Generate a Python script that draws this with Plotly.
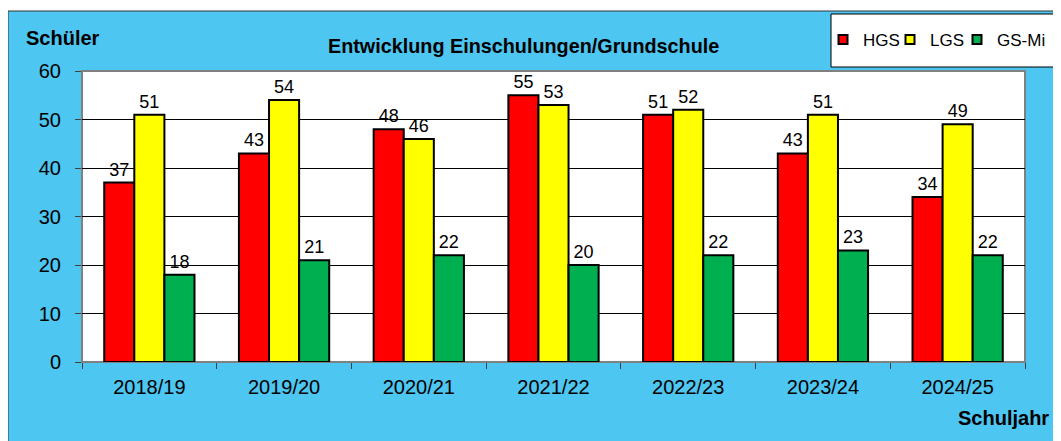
import plotly.graph_objects as go

years = ['2018/19', '2019/20', '2020/21', '2021/22', '2022/23', '2023/24', '2024/25']
hgs = [37, 43, 48, 55, 51, 43, 34]
lgs = [51, 54, 46, 53, 52, 51, 49]
gs_mi = [18, 21, 22, 20, 22, 23, 22]

font = 'Arial, Liberation Sans, sans-serif'
# page has an 8px body margin, so the figure is 8px smaller and coords are shifted
OFF = 8
W, H = 1061 - OFF, 441 - OFF
ml, mr, mt, mb = 82 - OFF, 36, 71 - OFF, 79
pw, ph = W - ml - mr, H - mt - mb

def px_x(x):
    return (x - OFF - ml) / pw

def px_y(y):
    return (H - mb - (y - OFF)) / ph

series = [('HGS', hgs, '#FF0000'), ('LGS', lgs, '#FFFF00'), ('GS-Mi', gs_mi, '#00B050')]
legend_names = ['legend', 'legend2', 'legend3']
legend_x = [823, 890, 957]

fig = go.Figure()
for name, vals, col in series:
    fig.add_trace(go.Bar(x=years, y=vals, name=name, showlegend=False,
                         marker=dict(color=col, line=dict(color='black', width=2)),
                         text=vals, textposition='outside', cliponaxis=False,
                         textfont=dict(size=18, color='black', family=font)))
# legend entries with small square keys, one legend each so they can sit close together
for (name, vals, col), lg in zip(series, legend_names):
    fig.add_trace(go.Scatter(x=[None], y=[None], mode='markers', name=name, legend=lg,
                             marker=dict(symbol='square', size=9, color=col,
                                         line=dict(color='black', width=2))))

legend_style = dict(orientation='h', xanchor='left', yanchor='top', y=px_y(22),
                    bgcolor='rgba(0,0,0,0)', borderwidth=0, font=dict(size=17))

fig.update_layout(
    width=W, height=H,
    margin=dict(l=ml, r=mr, t=mt, b=mb, autoexpand=False),
    paper_bgcolor='white', plot_bgcolor='white',
    barmode='group', bargap=0.33, bargroupgap=0,
    font=dict(family=font, size=20, color='black'),
    showlegend=True,
    shapes=[dict(type='rect', xref='paper', yref='paper', layer='below',
                 x0=px_x(8), x1=px_x(1062), y0=px_y(442), y1=px_y(11),
                 fillcolor='#4DC6F2', line=dict(color='#333333', width=1)),
            dict(type='rect', xref='paper', yref='paper', layer='below',
                 x0=0, x1=1, y0=0, y1=1, fillcolor='white', line=dict(color='#808080', width=2)),
            dict(type='rect', xref='paper', yref='paper', layer='below',
                 x0=px_x(831), x1=px_x(1057), y0=px_y(67), y1=px_y(14),
                 fillcolor='white', line=dict(color='black', width=1))],
    annotations=[
        dict(text='<b>Schüler</b>', xref='paper', yref='paper', x=px_x(24), y=px_y(38),
             xanchor='left', yanchor='middle', showarrow=False, font=dict(size=20)),
        dict(text='<b>Entwicklung Einschulungen/Grundschule</b>', xref='paper', yref='paper',
             x=px_x(523), y=px_y(46), xanchor='center', yanchor='middle', showarrow=False,
             font=dict(size=19.8)),
        dict(text='<b>Schuljahr</b>', xref='paper', yref='paper', x=px_x(1051), y=px_y(418),
             xanchor='right', yanchor='middle', showarrow=False, font=dict(size=20)),
    ],
)
for lg, lx in zip(legend_names, legend_x):
    fig.update_layout({lg: dict(legend_style, x=px_x(lx))})

fig.update_yaxes(range=[0, 60], dtick=10, showgrid=True, gridcolor='black', gridwidth=1,
                 ticks='outside', ticklen=6, tickcolor='#404040', showline=False,
                 zeroline=False, tickfont=dict(size=20), ticklabelstandoff=10)
fig.update_xaxes(ticks='outside', ticklen=6, tickcolor='#404040', tickson='boundaries',
                 showline=False, tickfont=dict(size=20), ticklabelstandoff=11)

fig.write_html("out.html")
